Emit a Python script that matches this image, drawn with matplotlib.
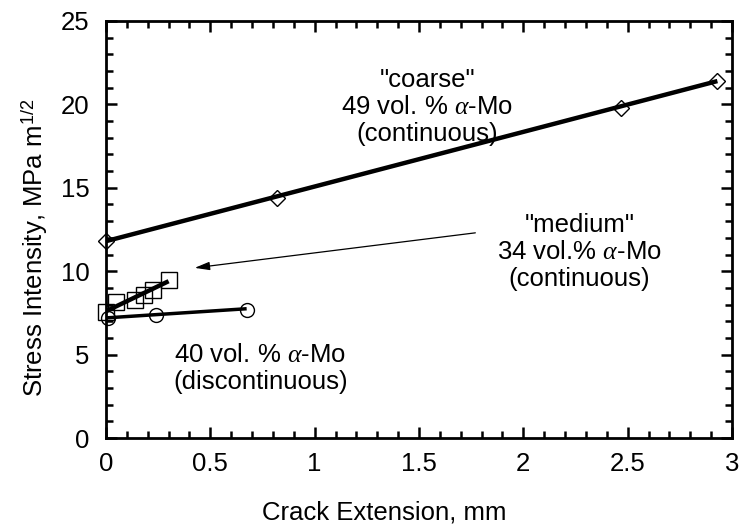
import matplotlib
matplotlib.use("Agg")
import matplotlib.pyplot as plt
from matplotlib.ticker import MultipleLocator

plt.rcParams['font.family'] = ['Liberation Sans', 'DejaVu Sans']
plt.rcParams['mathtext.fontset'] = 'custom'
plt.rcParams['mathtext.rm'] = 'Liberation Sans'
plt.rcParams['mathtext.it'] = 'Liberation Serif:italic'

# "coarse" 49 vol.% alpha-Mo (continuous)
coarse_x = [0.0, 0.82, 2.47, 2.93]
coarse_y = [11.8, 14.4, 19.8, 21.4]
coarse_fit_x = [0.0, 2.93]
coarse_fit_y = [11.8, 21.4]

# "medium" 34 vol.% alpha-Mo (continuous)
medium_x = [0.0, 0.048, 0.14, 0.18, 0.227, 0.30]
medium_y = [7.55, 8.15, 8.25, 8.6, 8.9, 9.45]
medium_fit_x = [0.0, 0.30]
medium_fit_y = [7.6, 9.4]

# 40 vol.% alpha-Mo (discontinuous)
disc_x = [0.011, 0.24, 0.674]
disc_y = [7.2, 7.4, 7.7]
disc_fit_x = [0.0, 0.674]
disc_fit_y = [7.2, 7.75]

fig = plt.figure(figsize=(7.4, 5.29), dpi=100)
ax = fig.add_axes([106 / 740, 1 - 438 / 529, 626 / 740, 417 / 529])

ax.plot(coarse_fit_x, coarse_fit_y, color='black', lw=3.2, solid_capstyle='butt')
ax.plot(coarse_x, coarse_y, linestyle='none', marker='D', ms=8, mfc='none',
        mec='black', mew=1.0, clip_on=False)

ax.plot(medium_fit_x, medium_fit_y, color='black', lw=3.2, solid_capstyle='butt')
ax.plot(medium_x, medium_y, linestyle='none', marker='s', ms=11, mfc='none',
        mec='black', mew=1.0, clip_on=False)

ax.plot(disc_fit_x, disc_fit_y, color='black', lw=2.5, solid_capstyle='butt')
ax.plot(disc_x, disc_y, linestyle='none', marker='o', ms=10, mfc='none',
        mec='black', mew=1.0, clip_on=False)

fs = 18.5
ax.text(1.54, 19.85, '"coarse"\n49 vol. % $\\alpha$-Mo\n(continuous)',
        ha='center', va='center', fontsize=fs, linespacing=1.15)
ax.text(2.27, 11.15, '"medium"\n34 vol.% $\\alpha$-Mo\n(continuous)',
        ha='center', va='center', fontsize=fs, linespacing=1.15)
ax.text(0.74, 4.15, '40 vol. % $\\alpha$-Mo\n(discontinuous)',
        ha='center', va='center', fontsize=fs, linespacing=1.15)

ax.annotate('', xy=(0.425, 10.2), xytext=(1.77, 12.3),
            arrowprops=dict(arrowstyle='-|>,head_length=0.9,head_width=0.25',
                            color='black', lw=0.9, shrinkA=0, shrinkB=0))

ax.set_xlim(0, 3)
ax.set_ylim(0, 25)
ax.xaxis.set_major_locator(MultipleLocator(0.5))
ax.xaxis.set_minor_locator(MultipleLocator(0.1))
ax.yaxis.set_major_locator(MultipleLocator(5))
ax.yaxis.set_minor_locator(MultipleLocator(1))
ax.set_xticks([0, 0.5, 1, 1.5, 2, 2.5, 3])
ax.set_xticklabels(['0', '0.5', '1', '1.5', '2', '2.5', '3'])

ax.tick_params(which='both', direction='in', top=True, right=True,
               labelsize=fs, width=1.8, colors='black')
ax.tick_params(which='major', length=8)
ax.tick_params(axis='x', which='major', pad=10)
ax.tick_params(axis='y', which='major', pad=12)
ax.tick_params(which='minor', length=5)
for sp in ax.spines.values():
    sp.set_linewidth(2)

ax.set_xlabel('Crack Extension, mm', fontsize=fs)
ax.xaxis.set_label_coords(0.444, -0.15)
ax.set_ylabel('Stress Intensity, MPa m$^{\\mathrm{1/2}}$', fontsize=fs)
ax.yaxis.set_label_coords(-0.09, 0.455)

fig.savefig('out.png', dpi=100)
